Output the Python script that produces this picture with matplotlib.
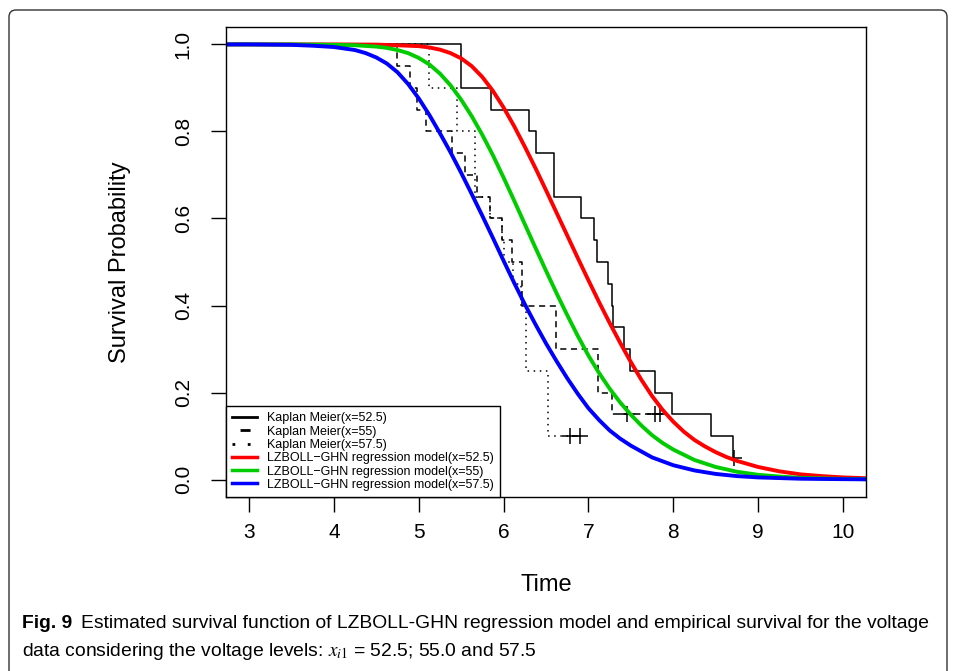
import matplotlib.pyplot as plt
from matplotlib.lines import Line2D
from matplotlib.patches import FancyBboxPatch

plt.rcParams['font.family'] = ['Liberation Sans', 'DejaVu Sans']
plt.rcParams['mathtext.fontset'] = 'stix'

# Kaplan-Meier estimates
km525_time = [0, 5.50, 5.85, 6.30, 6.38, 6.59, 6.91, 7.06, 7.10, 7.23, 7.28, 7.29,
              7.42, 7.49, 7.79, 7.99, 8.44, 8.70, 8.72]
km525_surv = [1.0, 0.90, 0.85, 0.80, 0.75, 0.65, 0.60, 0.55, 0.50, 0.45, 0.40, 0.35,
              0.30, 0.25, 0.20, 0.15, 0.10, 0.05, 0.05]
km525_cens = [8.72]
km525_cens_s = [0.05]

km55_time = [0, 4.74, 4.90, 4.98, 5.08, 5.39, 5.54, 5.69, 5.84, 5.98, 6.10, 6.22,
             6.62, 7.11, 7.28, 7.84]
km55_surv = [1.0, 0.95, 0.90, 0.85, 0.80, 0.75, 0.70, 0.65, 0.60, 0.55, 0.50, 0.40,
             0.30, 0.20, 0.15, 0.15]
km55_cens = [7.45, 7.78, 7.84]
km55_cens_s = [0.15, 0.15, 0.15]

km575_time = [0, 5.12, 5.45, 5.66, 5.84, 5.98, 6.01, 6.11, 6.21, 6.27, 6.52, 6.90]
km575_surv = [1.0, 0.90, 0.80, 0.65, 0.60, 0.55, 0.50, 0.45, 0.40, 0.25, 0.10, 0.10]
km575_cens = [6.78, 6.90]
km575_cens_s = [0.10, 0.10]

# fitted LZBOLL-GHN survival curves
red_t = [2.7, 4.0, 4.5, 4.75, 5.0, 5.125, 5.25, 5.375, 5.5, 5.625, 5.75, 5.875, 6.0,
         6.125, 6.25, 6.375, 6.5, 6.625, 6.75, 6.875, 7.0, 7.125, 7.25, 7.375, 7.5,
         7.625, 7.75, 7.875, 8.0, 8.125, 8.25, 8.375, 8.5, 8.625, 8.75, 9.0, 9.25,
         9.5, 9.75, 10.0, 10.3]
red_s = [1.0, 1.0, 0.9995, 0.998, 0.996, 0.993, 0.988, 0.980, 0.968, 0.950, 0.925,
         0.893, 0.855, 0.812, 0.765, 0.716, 0.665, 0.613, 0.561, 0.509, 0.458, 0.408,
         0.360, 0.314, 0.270, 0.229, 0.192, 0.160, 0.133, 0.110, 0.091, 0.076, 0.063,
         0.052, 0.043, 0.029, 0.019, 0.012, 0.008, 0.005, 0.003]

green_t = [2.7, 3.5, 4.0, 4.25, 4.5, 4.625, 4.75, 4.875, 5.0, 5.125, 5.25, 5.375, 5.5,
           5.625, 5.75, 5.875, 6.0, 6.125, 6.25, 6.375, 6.5, 6.625, 6.75, 6.875, 7.0,
           7.125, 7.25, 7.375, 7.5, 7.625, 7.75, 7.875, 8.0, 8.25, 8.5, 8.75, 9.0,
           9.25, 9.5, 10.0, 10.3]
green_s = [1.0, 1.0, 0.999, 0.998, 0.995, 0.992, 0.987, 0.980, 0.969, 0.954, 0.933,
           0.906, 0.873, 0.835, 0.792, 0.745, 0.694, 0.641, 0.587, 0.533, 0.480, 0.428,
           0.378, 0.330, 0.285, 0.245, 0.209, 0.177, 0.149, 0.124, 0.102, 0.084, 0.069,
           0.045, 0.029, 0.018, 0.011, 0.007, 0.004, 0.0015, 0.001]

blue_t = [2.7, 3.0, 3.5, 3.75, 4.0, 4.25, 4.375, 4.5, 4.625, 4.75, 4.875, 5.0, 5.125,
          5.25, 5.375, 5.5, 5.625, 5.75, 5.875, 6.0, 6.125, 6.25, 6.375, 6.5, 6.625,
          6.75, 6.875, 7.0, 7.125, 7.25, 7.375, 7.5, 7.75, 8.0, 8.25, 8.5, 8.75, 9.0,
          9.5, 10.0, 10.3]
blue_s = [1.0, 1.0, 0.999, 0.997, 0.994, 0.987, 0.980, 0.970, 0.956, 0.936, 0.909,
          0.876, 0.838, 0.796, 0.752, 0.705, 0.656, 0.606, 0.555, 0.503, 0.452, 0.403,
          0.357, 0.313, 0.272, 0.233, 0.197, 0.164, 0.137, 0.113, 0.094, 0.078, 0.051,
          0.033, 0.021, 0.013, 0.008, 0.005, 0.002, 0.001, 0.0005]

xticks = [3, 4, 5, 6, 7, 8, 9, 10]
yticks = [0.0, 0.2, 0.4, 0.6, 0.8, 1.0]
legend_labels = ["Kaplan Meier(x=52.5)", "Kaplan Meier(x=55)", "Kaplan Meier(x=57.5)",
                 "LZBOLL\u2212GHN regression model(x=52.5)",
                 "LZBOLL\u2212GHN regression model(x=55)",
                 "LZBOLL\u2212GHN regression model(x=57.5)"]

W, H = 956, 671
fig = plt.figure(figsize=(W / 100, H / 100), dpi=100)

# rounded frame around figure + caption (open at the bottom)
frame = FancyBboxPatch((0.09, -0.3), 9.38, 6.91, boxstyle="round,pad=0,rounding_size=0.07",
                       transform=fig.dpi_scale_trans, fill=False, edgecolor='#333333', lw=1.0)
fig.patches.append(frame)

ax = fig.add_axes([226 / W, 1 - 497 / H, 640 / W, 470 / H])

ax.step(km525_time, km525_surv, where='post', color='black', lw=1.1)
ax.step(km55_time, km55_surv, where='post', color='black', lw=1.1, linestyle=(0, (4, 3)))
ax.step(km575_time, km575_surv, where='post', color='black', lw=1.1, linestyle=(0, (1, 3)))
for ct, cs in [(km525_cens, km525_cens_s), (km55_cens, km55_cens_s), (km575_cens, km575_cens_s)]:
    ax.plot(ct, cs, linestyle='none', marker='+', color='black', ms=11, mew=1.1)

ax.plot(red_t, red_s, color='#ff0000', lw=2.8)
ax.plot(green_t, green_s, color='#00cc00', lw=2.8)
ax.plot(blue_t, blue_s, color='#0000ff', lw=2.8)

ax.set_xlim(2.729, 10.271)
ax.set_ylim(-0.04, 1.04)
ax.set_xticks(xticks)
ax.set_xticklabels([str(v) for v in xticks])
ax.set_yticks(yticks)
ax.set_yticklabels([f"{v:.1f}" for v in yticks], rotation=90, va='center')
ax.tick_params(axis='both', direction='out', length=11, width=1, labelsize=15)
ax.tick_params(axis='x', pad=8)
ax.tick_params(axis='y', pad=13)
for sp in ax.spines.values():
    sp.set_linewidth(1.0)

fig.text(546 / W, 1 - 585 / H, "Time", fontsize=17, ha='center', va='center')
fig.text(120 / W, 1 - 262 / H, "Survival Probability", fontsize=17, rotation=90,
         ha='center', va='center')

handles = [Line2D([], [], color='black', lw=2),
           Line2D([], [], color='black', lw=2, linestyle=(10.7, (3.6, 10))),
           Line2D([], [], color='black', lw=2, linestyle=(0, (1, 4.5))),
           Line2D([], [], color='#ff0000', lw=2.5),
           Line2D([], [], color='#00cc00', lw=2.5),
           Line2D([], [], color='#0000ff', lw=2.5)]
leg = ax.legend(handles, legend_labels, loc='lower left', bbox_to_anchor=(0, 0),
                borderaxespad=0, fontsize=9, fancybox=False, framealpha=1,
                edgecolor='black', handlelength=2.0, handletextpad=0.8,
                labelspacing=0.1, borderpad=0.5)
leg.get_frame().set_linewidth(1.0)

# caption
fig.canvas.draw()
r = fig.canvas.get_renderer()
t1 = fig.text(22 / W, 1 - 623 / H, "Fig. 9", fontsize=13.9, fontweight='bold', va='center')
bb = t1.get_window_extent(renderer=r)
fig.text((bb.x1 + 9) / W, 1 - 623 / H,
         "Estimated survival function of LZBOLL-GHN regression model and empirical survival for the voltage",
         fontsize=13.9, va='center')
fig.text(22 / W, 1 - 651 / H,
         r"data considering the voltage levels: $x_{i1}$ = 52.5; 55.0 and 57.5",
         fontsize=13.9, va='center')

fig.savefig("out.png", dpi=100)
